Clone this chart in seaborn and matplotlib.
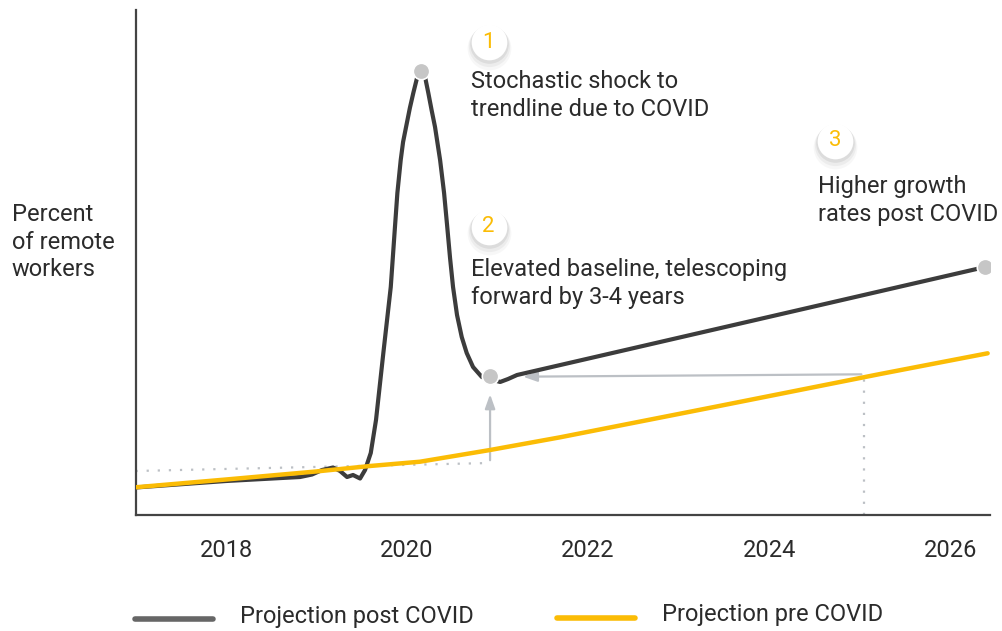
import matplotlib
matplotlib.use("Agg")
import matplotlib.pyplot as plt
import seaborn as sns
import pandas as pd
from matplotlib.lines import Line2D

# ---- data ----
post_years = [2017.000, 2018.000, 2018.818, 2018.950, 2019.061, 2019.182, 2019.260,
              2019.337, 2019.403, 2019.481, 2019.536, 2019.599, 2019.657, 2019.738,
              2019.820, 2019.864, 2019.893, 2019.930, 2019.956, 2019.989, 2020.031,
              2020.069, 2020.110, 2020.144, 2020.155, 2020.166, 2020.199, 2020.235,
              2020.271, 2020.309, 2020.365, 2020.409, 2020.442, 2020.475, 2020.508,
              2020.552, 2020.604, 2020.659, 2020.729, 2020.826, 2020.917, 2021.028,
              2021.116, 2021.215, 2026.387]
post_values = [2.75, 3.40, 3.80, 4.05, 4.50, 4.75, 4.40,
               3.80, 4.00, 3.65, 4.50, 6.20, 9.50, 16.20,
               22.80, 28.50, 32.20, 35.50, 37.30, 38.80, 40.70,
               42.20, 43.70, 44.30, 44.45, 44.30, 43.80, 42.20,
               40.50, 38.80, 35.50, 32.20, 29.00, 25.70, 22.80,
               20.00, 17.80, 16.20, 14.80, 13.80, 13.60, 13.30,
               13.60, 14.00, 24.80]

pre_years = [2017.000, 2018.000, 2018.994, 2019.591, 2020.144, 2020.917,
             2021.691, 2023.459, 2025.227, 2026.414]
pre_values = [2.77, 3.55, 4.35, 4.90, 5.33, 6.50, 7.77, 10.92, 14.10, 16.17]

marker_years = [2020.155, 2020.917, 2026.387]
marker_values = [44.4, 13.9, 24.8]

tick_years = [2018, 2020, 2022, 2024, 2026]
tick_labels = ["2018", "2020", "2022", "2024", "2026"]

baseline_years = [2017.0, 2020.917]
baseline_values = [4.4, 5.2]

notes = ["Stochastic shock to\ntrendline due to COVID",
         "Elevated baseline, telescoping\nforward by 3-4 years",
         "Higher growth\nrates post COVID"]
note_numbers = ["1", "2", "3"]

legend_labels = ["Projection post COVID", "Projection pre COVID"]

DARK = "#3c3c3c"
YELLOW = "#FBBC05"
GREY = "#bcc0c5"
TEXT = "#2b2b2b"


def px2data(px, py):
    return 2017 + (px - 135.5) / 90.5, (515 - py) / 10


note_text_pos = [px2data(471, 70), px2data(471, 258), px2data(818, 175)]
note_circle_pos = [px2data(488.5, 42), px2data(488.5, 227), px2data(835, 141)]

sns.set_theme(style="white")
plt.rcParams["font.family"] = ["Roboto", "DejaVu Sans"]

fig = plt.figure(figsize=(10.02, 6.31), dpi=100)
ax = fig.add_axes([135.5 / 1002, (631 - 515) / 631, (990 - 135.5) / 1002, 505 / 631])

df_post = pd.DataFrame({"year": post_years, "value": post_values})
df_pre = pd.DataFrame({"year": pre_years, "value": pre_values})

sns.lineplot(data=df_post, x="year", y="value", ax=ax, color=DARK, lw=3,
             sort=False, zorder=3)
sns.lineplot(data=df_pre, x="year", y="value", ax=ax, color=YELLOW, lw=3.2,
             sort=False, zorder=4)
for line in ax.lines:
    line.set_solid_joinstyle("round")

ax.scatter(marker_years, marker_values, s=140, color="#c6c6c6", edgecolor="white",
           linewidth=1.2, zorder=5)

# guide lines
ax.plot(baseline_years, baseline_values, color=GREY, lw=1.6, ls=(0, (1, 4)), zorder=2)
ax.plot([2025.05, 2025.05], [0, 14.07], color=GREY, lw=1.6, ls=(0, (1, 4)), zorder=2)
ax.annotate("", xy=(2020.917, 12.35), xytext=(2020.917, 5.2),
            arrowprops=dict(arrowstyle="-|>,head_length=0.7,head_width=0.25",
                            color=GREY, lw=1.6), zorder=2)
ax.annotate("", xy=(2021.25, 13.83), xytext=(2025.05, 14.07),
            arrowprops=dict(arrowstyle="-|>,head_length=0.7,head_width=0.25",
                            color=GREY, lw=1.6), zorder=2)

# numbered circles and notes
for (cx, cy), num in zip(note_circle_pos, note_numbers):
    for k, a in zip([3.0, 2.0, 1.0], [0.03, 0.045, 0.065]):
        ax.scatter([cx], [cy - 0.2 * k], s=660 + 110 * k, color="black", alpha=a,
                   linewidth=0, zorder=6)
    ax.scatter([cx], [cy], s=660, color="white", linewidth=0, zorder=7)
    ax.text(cx, cy, num, color=YELLOW, fontsize=16, ha="center", va="center", zorder=8)

for (tx, ty), note in zip(note_text_pos, notes):
    ax.text(tx, ty, note, color=TEXT, fontsize=17, ha="left", va="top",
            linespacing=1.26, zorder=8)

fig.text(12 / 1002, 1 - 203 / 631, "Percent\nof remote\nworkers", color=TEXT,
         fontsize=17, ha="left", va="top", linespacing=1.26)

ax.set_xlim(2017.0, 2026.44)
ax.set_ylim(0, 50.5)
ax.set_xticks(tick_years)
ax.set_xticklabels(tick_labels, fontsize=17, color=TEXT)
ax.set_yticks([])
ax.set_xlabel("")
ax.set_ylabel("")
ax.tick_params(axis="x", length=0, pad=17)
for s in ["top", "right"]:
    ax.spines[s].set_visible(False)
for s in ["left", "bottom"]:
    ax.spines[s].set_color("#444444")
    ax.spines[s].set_linewidth(1.6)

# legend drawn in figure coords
fig.add_artist(Line2D([135 / 1002, 213 / 1002], [1 - 619 / 631] * 2, color="#666666",
                      lw=4, solid_capstyle="round"))
fig.text(240 / 1002, 1 - 617 / 631, legend_labels[0], color=TEXT, fontsize=17,
         ha="left", va="center")
fig.add_artist(Line2D([557 / 1002, 635 / 1002], [1 - 618 / 631] * 2, color=YELLOW,
                      lw=4, solid_capstyle="round"))
fig.text(662 / 1002, 1 - 614 / 631, legend_labels[1], color=TEXT, fontsize=17,
         ha="left", va="center")

fig.savefig("out.png", dpi=100)
